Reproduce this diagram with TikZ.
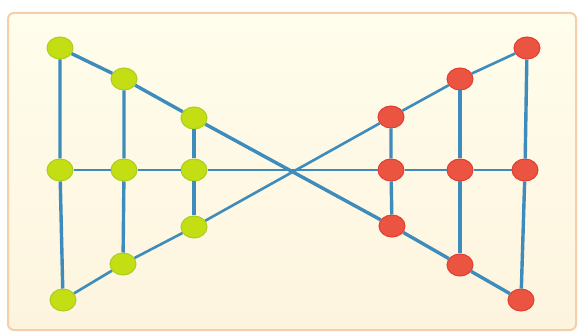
\documentclass[tikz,border=0pt]{standalone}
\usetikzlibrary{shapes.geometric}
\definecolor{edgeblue}{RGB}{62,140,188}
\definecolor{gfill}{RGB}{196,222,20}
\definecolor{gdraw}{RGB}{170,205,30}
\definecolor{rfill}{RGB}{236,84,66}
\definecolor{rdraw}{RGB}{225,60,50}
\definecolor{bgtop}{RGB}{255,253,236}
\definecolor{bgbot}{RGB}{253,244,222}
\definecolor{bgedge}{RGB}{246,206,168}
\tikzset{
  gnode/.style={ellipse,fill=gfill,draw=gdraw,line width=1pt,minimum width=26pt,minimum height=22pt,inner sep=0pt},
  rnode/.style={ellipse,fill=rfill,draw=rdraw,line width=1pt,minimum width=26pt,minimum height=22pt,inner sep=0pt},
  link/.style={draw=edgeblue,line width=3.4pt},
  thinlink/.style={draw=edgeblue,line width=2.6pt}
}
\begin{document}
\begin{tikzpicture}[x=1pt,y=-1pt]
\useasboundingbox (0,0) rectangle (579,334);
\fill[white] (0,0) rectangle (579,334);
\shade[top color=bgtop,bottom color=bgbot,draw=bgedge,line width=2pt,rounded corners=6pt] (8,13) rectangle (576,330);
% nodes
\node[gnode] (g1) at (60,48) {};
\node[gnode] (g2) at (124,79) {};
\node[gnode] (g3) at (194,118) {};
\node[gnode] (g4) at (60,170) {};
\node[gnode] (g5) at (124,170) {};
\node[gnode] (g6) at (194,170) {};
\node[gnode] (g7) at (194,227) {};
\node[gnode] (g8) at (123,264) {};
\node[gnode] (g9) at (63,300) {};
\node[rnode] (r1) at (527,48) {};
\node[rnode] (r2) at (460,79) {};
\node[rnode] (r3) at (391,117) {};
\node[rnode] (r4) at (391,170) {};
\node[rnode] (r5) at (460,170) {};
\node[rnode] (r6) at (525,170) {};
\node[rnode] (r7) at (392,226) {};
\node[rnode] (r8) at (460,265) {};
\node[rnode] (r9) at (521,300) {};
% edges
\path[link] (g1) -- (g2) (g2) -- (g3) (g3) -- (r7) (r7) -- (r8) (r8) -- (r9);
\path[thinlink] (g9) -- (g8) (g8) -- (g7) (g7) -- (r3) (r3) -- (r2) (r2) -- (r1);
\path[thinlink] (g4) -- (g5) (g5) -- (g6) (g6) -- (r4) (r4) -- (r5) (r5) -- (r6);
\path[link] (g1) -- (g4) (g4) -- (g9);
\path[link] (g2) -- (g5) (g5) -- (g8);
\path[link] (g3) -- (g6) (g6) -- (g7);
\path[link] (r1) -- (r6) (r6) -- (r9);
\path[link] (r2) -- (r5) (r5) -- (r8);
\path[link] (r3) -- (r4) (r4) -- (r7);
\end{tikzpicture}
\end{document}
